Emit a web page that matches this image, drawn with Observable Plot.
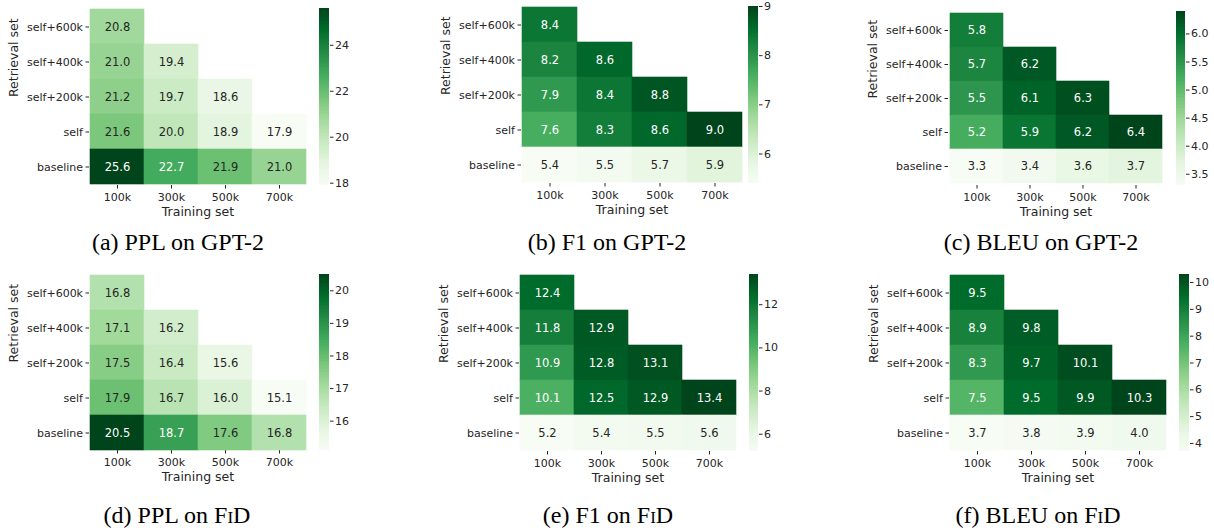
<!DOCTYPE html>
<html><head><meta charset="utf-8">
<script src="https://cdn.jsdelivr.net/npm/d3@7"></script>
<script src="https://cdn.jsdelivr.net/npm/@observablehq/plot@0.6"></script>
<style>
body{margin:0;background:#fff;}
#fig{position:relative;width:1214px;height:531px;overflow:hidden;font-family:"DejaVu Sans";}
#fig svg{position:absolute;overflow:visible;}
.cap{position:absolute;font-family:"Liberation Serif";font-size:24px;color:#000;transform:translateX(-50%);white-space:nowrap;line-height:1;}
.sc{font-variant:small-caps;}
</style></head><body><div id="fig"></div>
<script>
// ---- data ----
const training = ["100k", "300k", "500k", "700k"];
const retrieval = ["self+600k", "self+400k", "self+200k", "self", "baseline"];

// rows: self+600k, self+400k, self+200k, self, baseline (columns: 100k..700k)
const pplGPT2 = [[20.8], [21.0, 19.4], [21.2, 19.7, 18.6], [21.6, 20.0, 18.9, 17.9], [25.6, 22.7, 21.9, 21.0]];
const f1GPT2 = [[8.4], [8.2, 8.6], [7.9, 8.4, 8.8], [7.6, 8.3, 8.6, 9.0], [5.4, 5.5, 5.7, 5.9]];
const bleuGPT2 = [[5.8], [5.7, 6.2], [5.5, 6.1, 6.3], [5.2, 5.9, 6.2, 6.4], [3.3, 3.4, 3.6, 3.7]];
const pplFiD = [[16.8], [17.1, 16.2], [17.5, 16.4, 15.6], [17.9, 16.7, 16.0, 15.1], [20.5, 18.7, 17.6, 16.8]];
const f1FiD = [[12.4], [11.8, 12.9], [10.9, 12.8, 13.1], [10.1, 12.5, 12.9, 13.4], [5.2, 5.4, 5.5, 5.6]];
const bleuFiD = [[9.5], [8.9, 9.8], [8.3, 9.7, 10.1], [7.5, 9.5, 9.9, 10.3], [3.7, 3.8, 3.9, 4.0]];

// colorbar tick labels
const ticksPplGPT2 = [18, 20, 22, 24];
const ticksF1GPT2 = [6, 7, 8, 9];
const ticksBleuGPT2 = [3.5, 4.0, 4.5, 5.0, 5.5, 6.0];
const ticksPplFiD = [16, 17, 18, 19, 20];
const ticksF1FiD = [6, 8, 10, 12];
const ticksBleuFiD = [4, 5, 6, 7, 8, 9, 10];

const captions = [
  "(a) PPL on GPT-2", "(b) F1 on GPT-2", "(c) BLEU on GPT-2",
  "(d) PPL on <span class='sc'>FiD</span>", "(e) F1 on <span class='sc'>FiD</span>", "(f) BLEU on <span class='sc'>FiD</span>"
];

// ---- layout ----
const layout = [
  {x0: 89, x1: 306, y0: 8, y1: 185, cx: 319, cw: 10, fmt: "d", capX: 178, capY: 230},
  {x0: 521, x1: 742, y0: 6, y1: 183, cx: 748, cw: 10, fmt: "d", capX: 607, capY: 230},
  {x0: 948, x1: 1163, y0: 11, y1: 185, cx: 1176, cw: 9, fmt: ".1f", capX: 1041, capY: 230},
  {x0: 89, x1: 306, y0: 274, y1: 450, cx: 319, cw: 10, fmt: "d", capX: 177, capY: 503},
  {x0: 519, x1: 736, y0: 274, y1: 451, cx: 749, cw: 9, fmt: "d", capX: 608, capY: 503},
  {x0: 949, x1: 1166, y0: 274, y1: 451, cx: 1179, cw: 10, fmt: "d", capX: 1038, capY: 503}
];
const panels = [pplGPT2, f1GPT2, bleuGPT2, pplFiD, f1FiD, bleuFiD];
const panelTicks = [ticksPplGPT2, ticksF1GPT2, ticksBleuGPT2, ticksPplFiD, ticksF1FiD, ticksBleuFiD];

const greens = d3.piecewise(d3.interpolateRgb, d3.schemeGreens[9]);
function lum(c) {
  const {r, g, b} = d3.rgb(c);
  const f = v => { v /= 255; return v <= 0.03928 ? v / 12.92 : Math.pow((v + 0.055) / 1.055, 2.4); };
  return 0.2126 * f(r) + 0.7152 * f(g) + 0.0722 * f(b);
}
const fig = document.getElementById("fig");
const ink = "#262626";

panels.forEach((values, k) => {
  const L = layout[k];
  const data = [];
  retrieval.forEach((r, i) => values[i].forEach((v, j) => data.push({r, t: training[j], v})));
  const ext = d3.extent(data, d => d.v);
  const dom = d3.range(9).map(i => ext[0] + i * (ext[1] - ext[0]) / 8);
  const color = {type: "linear", domain: dom, range: d3.schemeGreens[9], interpolate: "rgb"};
  const tcol = d => lum(greens((d.v - ext[0]) / (ext[1] - ext[0]))) > 0.408 ? ink : "#ffffff";
  const ML = 90, MT = 6, MB = 40;
  const w = L.x1 - L.x0, h = L.y1 - L.y0;
  const style = {fontFamily: "DejaVu Sans", fontSize: "11px", color: ink, background: "transparent", overflow: "visible"};

  const heat = Plot.plot({
    width: ML + w + 2, height: MT + h + MB,
    marginLeft: ML, marginRight: 2, marginTop: MT, marginBottom: MB,
    style,
    x: {domain: training, padding: 0, label: null, tickSize: 3.5, tickPadding: 4},
    y: {domain: retrieval, padding: 0, label: null, tickSize: 3.5, tickPadding: 3},
    color,
    marks: [
      Plot.cell(data, {x: "t", y: "r", fill: "v", stroke: "v", strokeWidth: 0.6}),
      Plot.text(data, {x: "t", y: "r", text: d => d.v.toFixed(1), fill: tcol, fontSize: 11.5}),
      Plot.text(["Training set"], {frameAnchor: "bottom", dy: 30, fontSize: 12.5, fill: ink}),
      Plot.text(["Retrieval set"], {frameAnchor: "left", dx: -76, rotate: -90, fontSize: 12.5, fill: ink})
    ]
  });
  heat.style.left = (L.x0 - ML) + "px";
  heat.style.top = (L.y0 - MT) + "px";
  fig.appendChild(heat);

  const N = 120;
  const bands = d3.range(N).map(i => ({a: ext[0] + i * (ext[1] - ext[0]) / N, b: ext[0] + (i + 1) * (ext[1] - ext[0]) / N}));
  const cbar = Plot.plot({
    width: L.cw + 40, height: MT + h + MB,
    marginLeft: 0, marginRight: 40, marginTop: MT, marginBottom: MB,
    style,
    x: {domain: [0, 1], axis: null},
    y: {domain: ext, axis: "right", ticks: panelTicks[k], tickFormat: d3.format(L.fmt), tickSize: 3.5, tickPadding: 2, label: null},
    color,
    marks: [
      Plot.rect(bands, {x1: d => 0, x2: d => 1, y1: "a", y2: "b", fill: d => (d.a + d.b) / 2, shapeRendering: "crispEdges"})
    ]
  });
  cbar.style.left = L.cx + "px";
  cbar.style.top = (L.y0 - MT) + "px";
  fig.appendChild(cbar);

  const cap = document.createElement("div");
  cap.className = "cap";
  cap.innerHTML = captions[k];
  cap.style.left = L.capX + "px";
  cap.style.top = L.capY + "px";
  fig.appendChild(cap);
});
</script></body></html>
